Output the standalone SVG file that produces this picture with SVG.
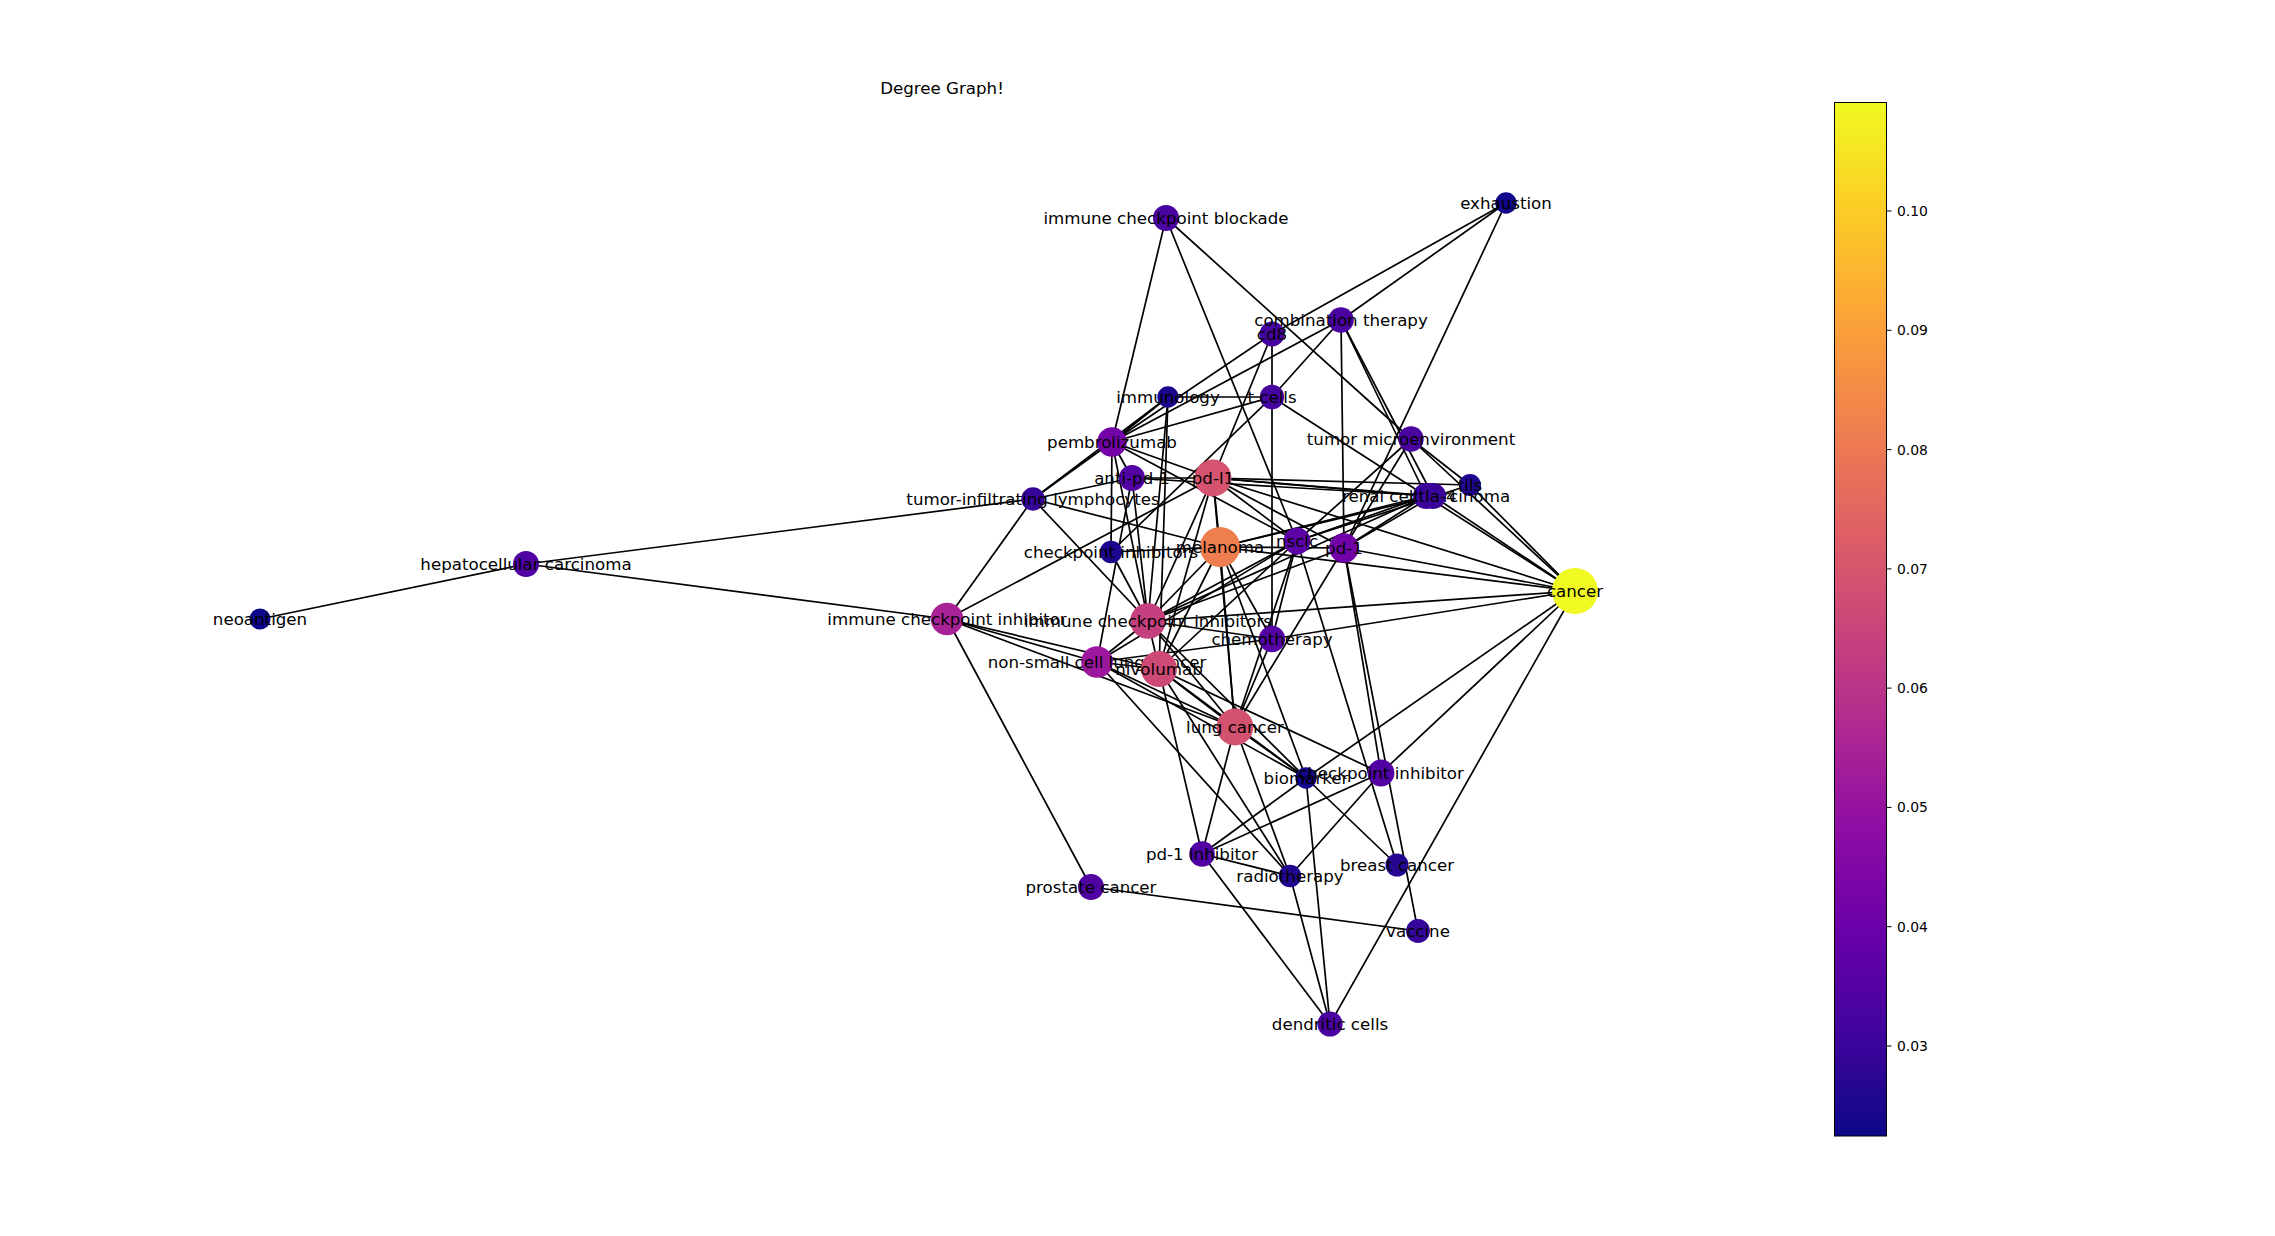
<svg xmlns="http://www.w3.org/2000/svg" width="2275" height="1236" viewBox="0 0 2275 1236">
<defs>
<linearGradient id="plasma" x1="0" y1="1" x2="0" y2="0">
<stop offset="0" stop-color="#0d0887"/><stop offset="0.1" stop-color="#41049d"/><stop offset="0.2" stop-color="#6a00a8"/><stop offset="0.3" stop-color="#8f0da4"/><stop offset="0.4" stop-color="#b12a90"/><stop offset="0.5" stop-color="#cc4778"/><stop offset="0.6" stop-color="#e16462"/><stop offset="0.7" stop-color="#f2844b"/><stop offset="0.8" stop-color="#fca636"/><stop offset="0.9" stop-color="#fcce25"/><stop offset="1" stop-color="#f0f921"/>
</linearGradient>
<style>
.e{stroke:#000;stroke-width:1.7;fill:none}
.l{font-family:"DejaVu Sans",sans-serif;font-size:16.67px;text-anchor:middle;fill:#000}
.t{font-family:"DejaVu Sans",sans-serif;font-size:13.9px;fill:#000}
</style>
</defs>
<rect width="2275" height="1236" fill="#fff"/>
<text x="942" y="94" class="l">Degree Graph!</text>
<g id="edges">
<line class="e" x1="1506" y1="203" x2="1272" y2="334"/>
<line class="e" x1="1506" y1="203" x2="1341" y2="320"/>
<line class="e" x1="1506" y1="203" x2="1344" y2="548"/>
<line class="e" x1="1166" y1="218" x2="1112" y2="442"/>
<line class="e" x1="1166" y1="218" x2="1297" y2="541"/>
<line class="e" x1="1166" y1="218" x2="1411" y2="439"/>
<line class="e" x1="1341" y1="320" x2="1112" y2="442"/>
<line class="e" x1="1341" y1="320" x2="1272" y2="397"/>
<line class="e" x1="1341" y1="320" x2="1344" y2="548"/>
<line class="e" x1="1341" y1="320" x2="1426" y2="496"/>
<line class="e" x1="1341" y1="320" x2="1433" y2="496"/>
<line class="e" x1="1272" y1="334" x2="1112" y2="442"/>
<line class="e" x1="1272" y1="334" x2="1272" y2="397"/>
<line class="e" x1="1272" y1="334" x2="1213" y2="478"/>
<line class="e" x1="1168" y1="397" x2="1272" y2="397"/>
<line class="e" x1="1168" y1="397" x2="1112" y2="442"/>
<line class="e" x1="1168" y1="397" x2="1033" y2="499"/>
<line class="e" x1="1168" y1="397" x2="1159" y2="669"/>
<line class="e" x1="1168" y1="397" x2="1148" y2="621"/>
<line class="e" x1="1272" y1="397" x2="1272" y2="639"/>
<line class="e" x1="1272" y1="397" x2="1426" y2="496"/>
<line class="e" x1="947" y1="619" x2="1213" y2="478"/>
<line class="e" x1="1272" y1="397" x2="1112" y2="442"/>
<line class="e" x1="1272" y1="397" x2="1111" y2="552"/>
<line class="e" x1="1411" y1="439" x2="1470" y2="485"/>
<line class="e" x1="1411" y1="439" x2="1344" y2="548"/>
<line class="e" x1="1411" y1="439" x2="1575" y2="591"/>
<line class="e" x1="1411" y1="439" x2="1297" y2="541"/>
<line class="e" x1="1470" y1="485" x2="1575" y2="591"/>
<line class="e" x1="1470" y1="485" x2="1213" y2="478"/>
<line class="e" x1="1470" y1="485" x2="1297" y2="541"/>
<line class="e" x1="1426" y1="496" x2="1575" y2="591"/>
<line class="e" x1="1426" y1="496" x2="1213" y2="478"/>
<line class="e" x1="1426" y1="496" x2="1220" y2="547"/>
<line class="e" x1="1426" y1="496" x2="1297" y2="541"/>
<line class="e" x1="1426" y1="496" x2="1344" y2="548"/>
<line class="e" x1="1426" y1="496" x2="1148" y2="621"/>
<line class="e" x1="1433" y1="496" x2="1575" y2="591"/>
<line class="e" x1="1433" y1="496" x2="1213" y2="478"/>
<line class="e" x1="1433" y1="496" x2="1220" y2="547"/>
<line class="e" x1="1433" y1="496" x2="1344" y2="548"/>
<line class="e" x1="1433" y1="496" x2="1132" y2="478"/>
<line class="e" x1="1213" y1="478" x2="1575" y2="591"/>
<line class="e" x1="1213" y1="478" x2="1132" y2="478"/>
<line class="e" x1="1213" y1="478" x2="1220" y2="547"/>
<line class="e" x1="1213" y1="478" x2="1297" y2="541"/>
<line class="e" x1="1213" y1="478" x2="1344" y2="548"/>
<line class="e" x1="1213" y1="478" x2="1235" y2="727"/>
<line class="e" x1="1213" y1="478" x2="1148" y2="621"/>
<line class="e" x1="1213" y1="478" x2="1159" y2="669"/>
<line class="e" x1="1213" y1="478" x2="1112" y2="442"/>
<line class="e" x1="1344" y1="548" x2="1575" y2="591"/>
<line class="e" x1="1344" y1="548" x2="1220" y2="547"/>
<line class="e" x1="1344" y1="548" x2="1148" y2="621"/>
<line class="e" x1="1344" y1="548" x2="1235" y2="727"/>
<line class="e" x1="1344" y1="548" x2="1381" y2="773"/>
<line class="e" x1="1344" y1="548" x2="1418" y2="931"/>
<line class="e" x1="1220" y1="547" x2="1575" y2="591"/>
<line class="e" x1="1220" y1="547" x2="1033" y2="499"/>
<line class="e" x1="1220" y1="547" x2="1148" y2="621"/>
<line class="e" x1="1220" y1="547" x2="1159" y2="669"/>
<line class="e" x1="1220" y1="547" x2="1235" y2="727"/>
<line class="e" x1="1220" y1="547" x2="1272" y2="639"/>
<line class="e" x1="1220" y1="547" x2="1111" y2="552"/>
<line class="e" x1="1220" y1="547" x2="1306" y2="778"/>
<line class="e" x1="1297" y1="541" x2="1148" y2="621"/>
<line class="e" x1="1297" y1="541" x2="1097" y2="662"/>
<line class="e" x1="1297" y1="541" x2="1159" y2="669"/>
<line class="e" x1="1297" y1="541" x2="1272" y2="639"/>
<line class="e" x1="1297" y1="541" x2="1235" y2="727"/>
<line class="e" x1="1297" y1="541" x2="1397" y2="865"/>
<line class="e" x1="1297" y1="541" x2="1112" y2="442"/>
<line class="e" x1="1111" y1="552" x2="1112" y2="442"/>
<line class="e" x1="1111" y1="552" x2="1148" y2="621"/>
<line class="e" x1="1148" y1="621" x2="1575" y2="591"/>
<line class="e" x1="1148" y1="621" x2="1272" y2="639"/>
<line class="e" x1="1148" y1="621" x2="1159" y2="669"/>
<line class="e" x1="1148" y1="621" x2="1097" y2="662"/>
<line class="e" x1="1148" y1="621" x2="1235" y2="727"/>
<line class="e" x1="1148" y1="621" x2="1306" y2="778"/>
<line class="e" x1="1148" y1="621" x2="1033" y2="499"/>
<line class="e" x1="1148" y1="621" x2="1132" y2="478"/>
<line class="e" x1="1148" y1="621" x2="1112" y2="442"/>
<line class="e" x1="1272" y1="639" x2="1575" y2="591"/>
<line class="e" x1="1272" y1="639" x2="1235" y2="727"/>
<line class="e" x1="1272" y1="639" x2="1097" y2="662"/>
<line class="e" x1="1097" y1="662" x2="947" y2="619"/>
<line class="e" x1="1097" y1="662" x2="1159" y2="669"/>
<line class="e" x1="1097" y1="662" x2="1235" y2="727"/>
<line class="e" x1="1097" y1="662" x2="1290" y2="876"/>
<line class="e" x1="1097" y1="662" x2="1306" y2="778"/>
<line class="e" x1="1159" y1="669" x2="947" y2="619"/>
<line class="e" x1="1159" y1="669" x2="1235" y2="727"/>
<line class="e" x1="1159" y1="669" x2="1306" y2="778"/>
<line class="e" x1="1159" y1="669" x2="1202" y2="854"/>
<line class="e" x1="1159" y1="669" x2="1290" y2="876"/>
<line class="e" x1="1159" y1="669" x2="1381" y2="773"/>
<line class="e" x1="1235" y1="727" x2="1202" y2="854"/>
<line class="e" x1="1235" y1="727" x2="1306" y2="778"/>
<line class="e" x1="1235" y1="727" x2="1290" y2="876"/>
<line class="e" x1="1235" y1="727" x2="947" y2="619"/>
<line class="e" x1="1306" y1="778" x2="1575" y2="591"/>
<line class="e" x1="1306" y1="778" x2="1330" y2="1024"/>
<line class="e" x1="1306" y1="778" x2="1397" y2="865"/>
<line class="e" x1="1306" y1="778" x2="1202" y2="854"/>
<line class="e" x1="1381" y1="773" x2="1575" y2="591"/>
<line class="e" x1="1381" y1="773" x2="1202" y2="854"/>
<line class="e" x1="1381" y1="773" x2="1290" y2="876"/>
<line class="e" x1="1330" y1="1024" x2="1575" y2="591"/>
<line class="e" x1="1202" y1="854" x2="1290" y2="876"/>
<line class="e" x1="1202" y1="854" x2="1330" y2="1024"/>
<line class="e" x1="1290" y1="876" x2="1330" y2="1024"/>
<line class="e" x1="1091" y1="887" x2="1418" y2="931"/>
<line class="e" x1="1091" y1="887" x2="947" y2="619"/>
<line class="e" x1="260" y1="619" x2="526" y2="564"/>
<line class="e" x1="526" y1="564" x2="1033" y2="499"/>
<line class="e" x1="526" y1="564" x2="947" y2="619"/>
<line class="e" x1="947" y1="619" x2="1033" y2="499"/>
<line class="e" x1="1132" y1="478" x2="1112" y2="442"/>
<line class="e" x1="1132" y1="478" x2="1033" y2="499"/>
<line class="e" x1="1132" y1="478" x2="1097" y2="662"/>
<line class="e" x1="1112" y1="442" x2="1033" y2="499"/>
</g>
<g id="n-cancer"><circle cx="1575" cy="591" r="23" fill="#f0f921"/><text x="1575" y="596.5" class="l">cancer</text></g>
<g id="n-exhaustion"><circle cx="1506" cy="203" r="10.7" fill="#10078a"/><text x="1506" y="208.5" class="l">exhaustion</text></g>
<g id="n-icb"><circle cx="1166" cy="218" r="13" fill="#4a02a0"/><text x="1166" y="223.5" class="l">immune checkpoint blockade</text></g>
<g id="n-cd8"><circle cx="1272" cy="334" r="12.5" fill="#46039f"/><text x="1272" y="339.5" class="l">cd8</text></g>
<g id="n-comb"><circle cx="1341" cy="320" r="12.8" fill="#4a02a0"/><text x="1341" y="325.5" class="l">combination therapy</text></g>
<g id="n-immunology"><circle cx="1168" cy="397" r="10.7" fill="#1c068d"/><text x="1168" y="402.5" class="l">immunology</text></g>
<g id="n-tcells"><circle cx="1272" cy="397" r="12.2" fill="#46039f"/><text x="1272" y="402.5" class="l">t cells</text></g>
<g id="n-pemb"><circle cx="1112" cy="442" r="14.7" fill="#7301a8"/><text x="1112" y="447.5" class="l">pembrolizumab</text></g>
<g id="n-tme"><circle cx="1411" cy="439" r="12.7" fill="#4a02a0"/><text x="1411" y="444.5" class="l">tumor microenvironment</text></g>
<g id="n-tils"><circle cx="1470" cy="485" r="11" fill="#200690"/><text x="1470" y="490.5" class="l">tils</text></g>
<g id="n-rcc"><circle cx="1426" cy="496" r="13" fill="#3b049a"/><text x="1426" y="501.5" class="l">renal cell carcinoma</text></g>
<g id="n-ctla4"><circle cx="1433" cy="496" r="13" fill="#3b049a"/><text x="1433" y="501.5" class="l">ctla-4</text></g>
<g id="n-antipd1"><circle cx="1132" cy="478" r="13" fill="#5302a3"/><text x="1132" y="483.5" class="l">anti-pd-1</text></g>
<g id="n-pdl1"><circle cx="1213" cy="478" r="18.5" fill="#d5536f"/><text x="1213" y="483.5" class="l">pd-l1</text></g>
<g id="n-til"><circle cx="1033" cy="499" r="11.7" fill="#370499"/><text x="1033" y="504.5" class="l">tumor-infiltrating lymphocytes</text></g>
<g id="n-melanoma"><circle cx="1220" cy="547" r="20" fill="#ee7d50"/><text x="1220" y="552.5" class="l">melanoma</text></g>
<g id="n-nsclc"><circle cx="1297" cy="541" r="13.4" fill="#5c01a6"/><text x="1297" y="546.5" class="l">nsclc</text></g>
<g id="n-pd1"><circle cx="1344" cy="548" r="14.7" fill="#7201a8"/><text x="1344" y="553.5" class="l">pd-1</text></g>
<g id="n-cpis"><circle cx="1111" cy="552" r="11.2" fill="#1c068d"/><text x="1111" y="557.5" class="l">checkpoint inhibitors</text></g>
<g id="n-icis"><circle cx="1148" cy="621" r="17.8" fill="#c5407e"/><text x="1148" y="626.5" class="l">immune checkpoint inhibitors</text></g>
<g id="n-chemo"><circle cx="1272" cy="639" r="13.2" fill="#5402a3"/><text x="1272" y="644.5" class="l">chemotherapy</text></g>
<g id="n-nsclc2"><circle cx="1097" cy="662" r="15.8" fill="#9c179e"/><text x="1097" y="667.5" class="l">non-small cell lung cancer</text></g>
<g id="n-nivo"><circle cx="1159" cy="669" r="18" fill="#cd4a76"/><text x="1159" y="674.5" class="l">nivolumab</text></g>
<g id="n-lc"><circle cx="1235" cy="727" r="18.4" fill="#d35270"/><text x="1235" y="732.5" class="l">lung cancer</text></g>
<g id="n-bio"><circle cx="1306" cy="778" r="10.7" fill="#12078a"/><text x="1306" y="783.5" class="l">biomarker</text></g>
<g id="n-cpi"><circle cx="1381" cy="773" r="13.4" fill="#5302a3"/><text x="1381" y="778.5" class="l">checkpoint inhibitor</text></g>
<g id="n-pd1i"><circle cx="1202" cy="854" r="12.8" fill="#5002a2"/><text x="1202" y="859.5" class="l">pd-1 inhibitor</text></g>
<g id="n-radio"><circle cx="1290" cy="876" r="11.3" fill="#23068f"/><text x="1290" y="881.5" class="l">radiotherapy</text></g>
<g id="n-bc"><circle cx="1397" cy="865" r="11.5" fill="#240691"/><text x="1397" y="870.5" class="l">breast cancer</text></g>
<g id="n-vaccine"><circle cx="1418" cy="931" r="11.9" fill="#350498"/><text x="1418" y="936.5" class="l">vaccine</text></g>
<g id="n-dc"><circle cx="1330" cy="1024" r="12.6" fill="#4c02a1"/><text x="1330" y="1029.5" class="l">dendritic cells</text></g>
<g id="n-neo"><circle cx="260" cy="619" r="10.5" fill="#0d0887"/><text x="260" y="624.5" class="l">neoantigen</text></g>
<g id="n-hcc"><circle cx="526" cy="564" r="13" fill="#5002a2"/><text x="526" y="569.5" class="l">hepatocellular carcinoma</text></g>
<g id="n-ici"><circle cx="947" cy="619" r="16.3" fill="#a82296"/><text x="947" y="624.5" class="l">immune checkpoint inhibitor</text></g>
<g id="n-prostate"><circle cx="1091" cy="887" r="13" fill="#5002a2"/><text x="1091" y="892.5" class="l">prostate cancer</text></g>
<g id="colorbar">
<rect x="1834.5" y="102.5" width="52" height="1033.5" fill="url(#plasma)" stroke="#000" stroke-width="1"/>
<g stroke="#000" stroke-width="1">
<line x1="1886.5" y1="211" x2="1891.5" y2="211"/><line x1="1886.5" y1="330.3" x2="1891.5" y2="330.3"/><line x1="1886.5" y1="449.6" x2="1891.5" y2="449.6"/><line x1="1886.5" y1="568.9" x2="1891.5" y2="568.9"/><line x1="1886.5" y1="688.1" x2="1891.5" y2="688.1"/><line x1="1886.5" y1="807.4" x2="1891.5" y2="807.4"/><line x1="1886.5" y1="926.7" x2="1891.5" y2="926.7"/><line x1="1886.5" y1="1046" x2="1891.5" y2="1046"/>
</g>
<text x="1897" y="216" class="t">0.10</text><text x="1897" y="335.3" class="t">0.09</text><text x="1897" y="454.6" class="t">0.08</text><text x="1897" y="573.9" class="t">0.07</text><text x="1897" y="693.1" class="t">0.06</text><text x="1897" y="812.4" class="t">0.05</text><text x="1897" y="931.7" class="t">0.04</text><text x="1897" y="1051" class="t">0.03</text>
</g>
</svg>
